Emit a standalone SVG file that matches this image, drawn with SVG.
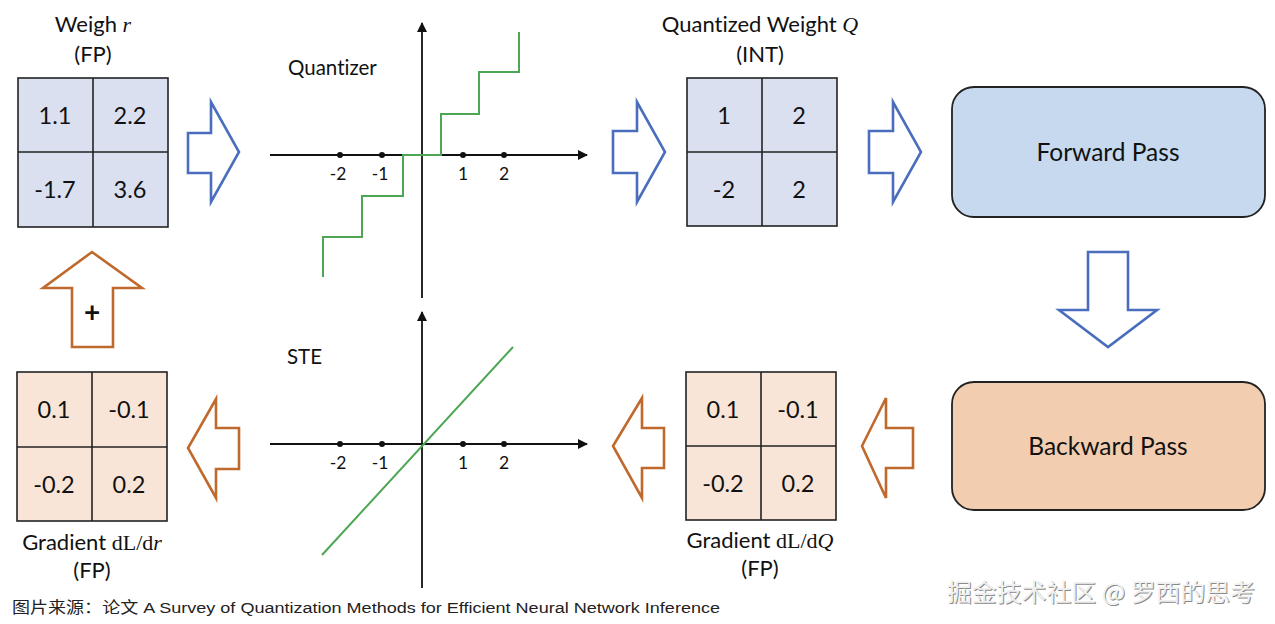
<svg xmlns="http://www.w3.org/2000/svg" width="1275" height="624" viewBox="0 0 1275 624">
<style>
text{font-variant-ligatures:none}
.lbl{font-family:Lato,"Open Sans",sans-serif;font-size:22px;fill:#111;text-anchor:middle}
.cell{font-family:Lato,"Open Sans",sans-serif;font-size:23.5px;fill:#111;text-anchor:middle}
.tick{font-family:Lato,"Open Sans",sans-serif;font-size:17.5px;fill:#111;text-anchor:middle}
.math{font-family:"Liberation Serif",serif}
.mi{font-family:"Liberation Serif",serif;font-style:italic}
.gridb{fill:#dae0f0;stroke:#222;stroke-width:1.6}
.grido{fill:#f9e5d7;stroke:#222;stroke-width:1.6}
.inner{stroke:#222;stroke-width:1.6}
.barrow{fill:#fff;stroke:#4a6ebd;stroke-width:2.6;stroke-linejoin:miter}
.oarrow{fill:#fff;stroke:#c0692d;stroke-width:2.6;stroke-linejoin:miter}
.axis{stroke:#111;stroke-width:1.8;fill:none}
.green{stroke:#4da653;stroke-width:2;fill:none}
.dot{fill:#111}
.pass{font-family:Lato,"Open Sans",sans-serif;font-size:24.5px;fill:#111;text-anchor:middle}
</style>
<defs>
<marker id="ah" markerWidth="10" markerHeight="10" refX="9" refY="5" orient="auto" markerUnits="userSpaceOnUse">
<path d="M0,0 L10,5 L0,10 Z" fill="#111"/>
</marker>
</defs>
<rect width="1275" height="624" fill="#fff"/>

<g id="weight-r">
<text class="lbl" x="93" y="32">Weigh <tspan class="mi">r</tspan></text>
<text class="lbl" x="93" y="62">(FP)</text>
<rect class="gridb" x="18" y="78" width="150" height="149"/>
<line class="inner" x1="93" y1="78" x2="93" y2="227"/>
<line class="inner" x1="18" y1="152" x2="168" y2="152"/>
<text class="cell" x="55" y="124">1.1</text>
<text class="cell" x="130" y="124">2.2</text>
<text class="cell" x="55" y="198">-1.7</text>
<text class="cell" x="130" y="198">3.6</text>
</g>

<g id="quantizer">
<text x="288" y="75" font-family="Lato,'Open Sans',sans-serif" font-size="20.5" fill="#111">Quantizer</text>
<line class="axis" x1="270" y1="155" x2="587" y2="155" marker-end="url(#ah)"/>
<line class="axis" x1="422" y1="298" x2="422" y2="23" marker-end="url(#ah)"/>
<circle class="dot" cx="340" cy="155" r="3"/>
<circle class="dot" cx="382" cy="155" r="3"/>
<circle class="dot" cx="463" cy="155" r="3"/>
<circle class="dot" cx="504" cy="155" r="3"/>
<text class="tick" x="338" y="180">-2</text>
<text class="tick" x="380" y="180">-1</text>
<text class="tick" x="463" y="180">1</text>
<text class="tick" x="504" y="180">2</text>
<path class="green" d="M323,277 V237 H362 V196 H403 V155 H441 V114 H479 V72 H519 V32"/>
</g>

<g id="quantized-Q">
<text class="lbl" x="760" y="32">Quantized Weight <tspan class="mi">Q</tspan></text>
<text class="lbl" x="760" y="62">(INT)</text>
<rect class="gridb" x="687" y="78" width="150" height="148"/>
<line class="inner" x1="762" y1="78" x2="762" y2="226"/>
<line class="inner" x1="687" y1="152" x2="837" y2="152"/>
<text class="cell" x="724" y="124">1</text>
<text class="cell" x="799" y="124">2</text>
<text class="cell" x="724" y="198">-2</text>
<text class="cell" x="799" y="198">2</text>
</g>

<g id="forward-pass">
<rect x="952" y="87" width="313" height="130" rx="22" fill="#c6d9ee" stroke="#222" stroke-width="1.8"/>
<text class="pass" x="1108" y="161">Forward Pass</text>
</g>

<g id="backward-pass">
<rect x="952" y="382" width="313" height="128" rx="22" fill="#f3cdb0" stroke="#222" stroke-width="1.8"/>
<text class="pass" x="1108" y="455">Backward Pass</text>
</g>

<g id="grad-Q">
<rect class="grido" x="686" y="372" width="150" height="148"/>
<line class="inner" x1="761" y1="372" x2="761" y2="520"/>
<line class="inner" x1="686" y1="446" x2="836" y2="446"/>
<text class="cell" x="723" y="418">0.1</text>
<text class="cell" x="798" y="418">-0.1</text>
<text class="cell" x="723" y="492">-0.2</text>
<text class="cell" x="798" y="492">0.2</text>
<text class="lbl" x="760" y="548">Gradient <tspan class="math">dL/d</tspan><tspan class="mi">Q</tspan></text>
<text class="lbl" x="760" y="576">(FP)</text>
</g>

<g id="ste">
<text x="287" y="364" font-family="Lato,'Open Sans',sans-serif" font-size="20.5" fill="#111">STE</text>
<line class="axis" x1="270" y1="444" x2="587" y2="444" marker-end="url(#ah)"/>
<line class="axis" x1="422" y1="588" x2="422" y2="312" marker-end="url(#ah)"/>
<circle class="dot" cx="340" cy="444" r="3"/>
<circle class="dot" cx="382" cy="444" r="3"/>
<circle class="dot" cx="463" cy="444" r="3"/>
<circle class="dot" cx="504" cy="444" r="3"/>
<text class="tick" x="338" y="469">-2</text>
<text class="tick" x="380" y="469">-1</text>
<text class="tick" x="463" y="469">1</text>
<text class="tick" x="504" y="469">2</text>
<line class="green" x1="322" y1="555" x2="513" y2="347"/>
</g>

<g id="grad-r">
<rect class="grido" x="17" y="372" width="150" height="149"/>
<line class="inner" x1="92" y1="372" x2="92" y2="521"/>
<line class="inner" x1="17" y1="447" x2="167" y2="447"/>
<text class="cell" x="54" y="418">0.1</text>
<text class="cell" x="129" y="418">-0.1</text>
<text class="cell" x="54" y="493">-0.2</text>
<text class="cell" x="129" y="493">0.2</text>
<text class="lbl" x="92" y="550">Gradient <tspan class="math">dL/d</tspan><tspan class="mi">r</tspan></text>
<text class="lbl" x="92" y="578">(FP)</text>
</g>

<g id="connectors">
<polygon class="barrow" points="188,133 211,133 211,102 239,152 211,202 211,173 188,173"/>
<polygon class="barrow" points="613,131 637,131 637,102 665,152 637,202 637,173 613,173"/>
<polygon class="barrow" points="869,131 893,131 893,102 921,152 893,202 893,173 869,173"/>
<polygon class="barrow" points="1088,252 1128,252 1128,310 1157,310 1108,347 1059,310 1088,310"/>
<polygon class="oarrow" points="913,428 886,428 886,398 862,446 886,498 886,468 913,468"/>
<polygon class="oarrow" points="664,428 642,428 642,398 613,446 642,498 642,468 664,468"/>
<polygon class="oarrow" points="239,428 216,428 216,399 188,448 216,498 216,469 239,469"/>
<polygon class="oarrow" points="72,347 72,288 43,288 92,252 142,288 113,288 113,347"/>
<text x="92" y="322" font-family="Lato,'Open Sans',sans-serif" font-size="28" font-weight="bold" fill="#111" text-anchor="middle">+</text>
</g>

<text x="12" y="613" font-family="'Liberation Sans','Noto Sans CJK SC',sans-serif" font-size="15.5" fill="#222" textLength="708" lengthAdjust="spacingAndGlyphs">图片来源：论文 A Survey of Quantization Methods for Efficient Neural Network Inference</text>
<text x="947" y="601" font-family="'Noto Sans CJK SC',sans-serif" font-size="24" fill="#8a8a8a" transform="translate(1,1)" textLength="308" lengthAdjust="spacingAndGlyphs">掘金技术社区 @ 罗西的思考</text>
<text x="947" y="601" font-family="'Noto Sans CJK SC',sans-serif" font-size="24" fill="#f0f0f0" textLength="308" lengthAdjust="spacingAndGlyphs">掘金技术社区 @ 罗西的思考</text>
</svg>
